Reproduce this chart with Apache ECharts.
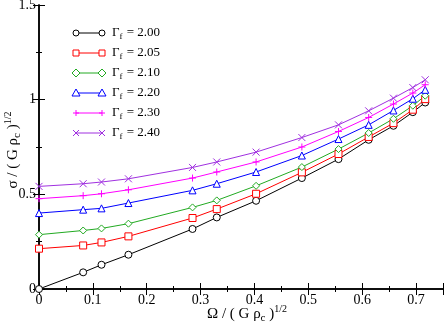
<!DOCTYPE html>
<html>
<head>
<meta charset="utf-8">
<script src="https://cdn.jsdelivr.net/npm/echarts@6/dist/echarts.min.js"></script>
<style>
  html, body { margin: 0; padding: 0; background: #fff; }
  #chart { width: 444px; height: 327px; }
</style>
</head>
<body>
<div id="chart"></div>
<script>
// rotation rate values, shared by all curves
var omega = [0, 0.082, 0.116, 0.166, 0.285, 0.330, 0.403, 0.488, 0.556, 0.612, 0.658, 0.694, 0.717];

var gammaLabels = ['2.00', '2.05', '2.10', '2.20', '2.30', '2.40'];

var sigma200 = [0, 0.088, 0.128, 0.181, 0.317, 0.378, 0.466, 0.586, 0.686, 0.788, 0.862, 0.934, 0.985];
var sigma205 = [0.213, 0.230, 0.246, 0.278, 0.375, 0.422, 0.503, 0.616, 0.713, 0.803, 0.876, 0.947, 1.003];
var sigma210 = [0.287, 0.309, 0.320, 0.345, 0.431, 0.468, 0.545, 0.644, 0.739, 0.824, 0.899, 0.968, 1.021];
var sigma220 = [0.401, 0.419, 0.426, 0.454, 0.521, 0.556, 0.618, 0.705, 0.792, 0.867, 0.943, 1.005, 1.052];
var sigma230 = [0.477, 0.493, 0.503, 0.524, 0.586, 0.618, 0.671, 0.750, 0.832, 0.906, 0.977, 1.035, 1.079];
var sigma240 = [0.542, 0.556, 0.565, 0.582, 0.642, 0.671, 0.723, 0.800, 0.867, 0.941, 1.008, 1.064, 1.105];

var allSigma = [sigma200, sigma205, sigma210, sigma220, sigma230, sigma240];

var colors = ['#000000', '#ff0000', '#22aa22', '#0000ff', '#ff00ff', '#a030e0'];
// outline-only marker shapes (thin strokes)
var symbols = [
  'path://M10,5A5,5,0,1,1,0,5A5,5,0,1,1,10,5Z',
  'path://M0,0L10,0L10,10L0,10Z',
  'path://M5,0L10,5L5,10L0,5Z',
  'path://M5,0L10,9L0,9Z',
  'path://M5,0L5,10M0,5L10,5',
  'path://M0,0L10,10M10,0L0,10'
];
var filled = [true, true, true, true, false, false];

var serif = '"Liberation Serif", "DejaVu Serif", serif';

function pairs(xs, ys) {
  var out = [];
  for (var i = 0; i < xs.length; i++) {
    out.push([xs[i], ys[i]]);
  }
  return out;
}

// small marker for the hand-built legend
function legendMarker(k, x, y) {
  var st = { stroke: colors[k], fill: '#fff', lineWidth: 1 };
  var ln = { stroke: colors[k], lineWidth: 1 };
  var r = 3;
  if (k === 0) return { type: 'circle', shape: { cx: x, cy: y, r: r }, style: st };
  if (k === 1) return { type: 'rect', shape: { x: x - r, y: y - r, width: 2 * r, height: 2 * r }, style: st };
  if (k === 2) return { type: 'polygon', shape: { points: [[x, y - r - 1], [x + r + 1, y], [x, y + r + 1], [x - r - 1, y]] }, style: st };
  if (k === 3) return { type: 'polygon', shape: { points: [[x, y - r - 1], [x + r + 1, y + r], [x - r - 1, y + r]] }, style: st };
  if (k === 4) return { type: 'group', children: [
    { type: 'line', shape: { x1: x - r, y1: y, x2: x + r, y2: y }, style: ln },
    { type: 'line', shape: { x1: x, y1: y - r, x2: x, y2: y + r }, style: ln }
  ] };
  return { type: 'group', children: [
    { type: 'line', shape: { x1: x - r, y1: y - r, x2: x + r, y2: y + r }, style: ln },
    { type: 'line', shape: { x1: x + r, y1: y - r, x2: x - r, y2: y + r }, style: ln }
  ] };
}

var chart = echarts.init(document.getElementById('chart'));

var series = [];
var graphics = [];
for (var i = 0; i < allSigma.length; i++) {
  series.push({
    name: gammaLabels[i],
    type: 'line',
    data: pairs(omega, allSigma[i]),
    symbol: symbols[i],
    symbolSize: 7,
    showSymbol: true,
    lineStyle: { color: colors[i], width: 1 },
    itemStyle: { color: filled[i] ? '#fff' : 'none', borderColor: colors[i], borderWidth: 1 },
    emphasis: { disabled: true },
    animation: false
  });

  // legend row: line with a marker at each end, then the label
  var ly = 33 + i * 20;
  graphics.push({
    type: 'line',
    shape: { x1: 76, y1: ly, x2: 102, y2: ly },
    style: { stroke: colors[i], lineWidth: 1 }
  });
  graphics.push(legendMarker(i, 76, ly));
  graphics.push(legendMarker(i, 102, ly));
  graphics.push({
    type: 'text',
    x: 112,
    y: ly,
    style: {
      text: '{a|Γ}{s|f}{a| = ' + gammaLabels[i] + '}',
      verticalAlign: 'middle',
      fill: '#000',
      rich: {
        a: { fontFamily: serif, fontSize: 13, lineHeight: 20 },
        s: { fontFamily: serif, fontSize: 9, padding: [8, 1, 0, 0], lineHeight: 20 }
      }
    }
  });
}

var nameRich = {
  a: { fontFamily: serif, fontSize: 15, fill: '#000' },
  s: { fontFamily: serif, fontSize: 11, fill: '#000', padding: [9, 0, 0, 0] },
  p: { fontFamily: serif, fontSize: 10, fill: '#000', padding: [0, 0, 10, 0] }
};

// axis titles
graphics.push({
  type: 'text',
  x: 247,
  y: 314,
  style: {
    text: '{a|Ω / ( G ρ}{s|c}{a| )}{p|1/2}',
    align: 'center',
    verticalAlign: 'middle',
    rich: nameRich
  }
});
graphics.push({
  type: 'text',
  x: 13,
  y: 150,
  rotation: Math.PI / 2,
  style: {
    text: '{a|σ / ( G ρ}{s|c}{a| )}{p|1/2}',
    align: 'center',
    verticalAlign: 'middle',
    rich: nameRich
  }
});

var option = {
  backgroundColor: '#fff',
  animation: false,
  grid: { left: 39, right: 1, top: 5, bottom: 38, outerBoundsMode: 'none', containLabel: false },
  xAxis: [{
    type: 'value',
    min: 0, max: 0.75, interval: 0.1,
    axisLine: { lineStyle: { color: '#000', width: 1.5 } },
    axisTick: { inside: true, length: 6, lineStyle: { color: '#000' } },
    minorTick: { show: true, splitNumber: 2, length: 3, lineStyle: { color: '#000' } },
    axisLabel: {
      fontFamily: serif, fontSize: 14, color: '#000', margin: 4,
      showMaxLabel: false,
      formatter: function (v) { return v === 0 ? '0' : v.toFixed(1); }
    },
    splitLine: { show: false }
  }, {
    type: 'value',
    position: 'top',
    min: 0, max: 0.75, interval: 0.1,
    axisLine: { show: true, lineStyle: { color: '#000', width: 1.5 } },
    axisTick: { inside: true, length: 6, lineStyle: { color: '#000' } },
    minorTick: { show: true, splitNumber: 2, length: 3, lineStyle: { color: '#000' } },
    axisLabel: { show: false },
    splitLine: { show: false }
  }],
  yAxis: [{
    type: 'value',
    min: 0, max: 1.5, interval: 0.5,
    axisLine: { lineStyle: { color: '#000', width: 1.5 } },
    axisTick: { inside: true, length: 6, lineStyle: { color: '#000' } },
    minorTick: { show: true, splitNumber: 2, length: 3, lineStyle: { color: '#000' } },
    axisLabel: {
      fontFamily: serif, fontSize: 14, color: '#000', margin: 3,
      formatter: function (v) { return v === 0 ? '0' : (v % 1 === 0 ? String(v) : v.toFixed(1)); }
    },
    splitLine: { show: false }
  }, {
    type: 'value',
    position: 'right',
    min: 0, max: 1.5, interval: 0.5,
    axisLine: { show: true, lineStyle: { color: '#000', width: 1.5 } },
    axisTick: { inside: true, length: 6, lineStyle: { color: '#000' } },
    minorTick: { show: true, splitNumber: 2, length: 3, lineStyle: { color: '#000' } },
    axisLabel: { show: false },
    splitLine: { show: false }
  }],
  series: series,
  graphic: graphics
};

chart.setOption(option);
</script>
</body>
</html>
